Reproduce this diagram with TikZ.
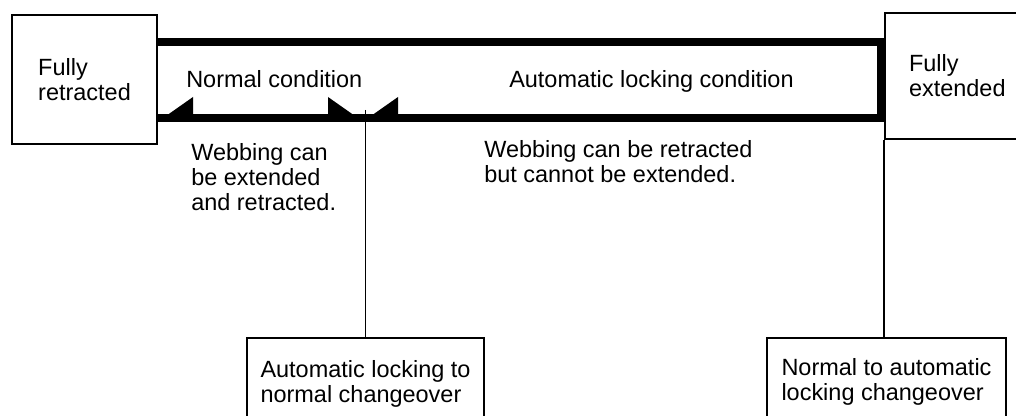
\documentclass[tikz,border=0pt]{standalone}
\usepackage{fontspec}
\setmainfont{Liberation Sans}
\tikzset{
  lbl/.style={font=\fontsize{17.6}{18.75}\selectfont,align=left},
  box/.style={lbl,draw,line width=1.5pt},
  txt/.style={lbl,inner sep=0pt},
  band/.style={line width=5.5pt},
  link/.style={line width=1.1pt}}
\newcommand\halfhead[2]{\fill (#1) ++(0,3.6) -- ++(#2*35,-24.6) -- ++(0,24.6) -- cycle;}

\begin{document}
\begin{tikzpicture}[x=0.75pt,y=-0.75pt]
\useasboundingbox (0,0) rectangle (1016,416);
\node[box,anchor=north west,minimum width=108.75pt,minimum height=96.75pt,inner xsep=19.5pt] (retr) at (11,14) {Fully\\retracted};
\node[box,anchor=north west,text width=81pt,inner xsep=18pt,minimum height=94.5pt] (ext) at (884,12) {Fully\\extended};
\node[box,anchor=north west,minimum width=177.75pt,minimum height=68.25pt] (alnc) at (246,337) {Automatic locking to\\normal changeover};
\node[box,anchor=north west,minimum width=179.25pt,minimum height=65.25pt] (nalc) at (766,337) {Normal to automatic\\locking changeover};
\coordinate (split) at (363,118);\coordinate (corner) at (881,42);
\draw[band] (retr.east |- corner) -- (corner) |- (split);
\draw[band] (retr.east |- split) -- (split);
\halfhead{retr.east |- split}{1}\halfhead{split}{-1}\halfhead{split}{1}
\coordinate (notch) at (alnc.north |- 0,110);
\draw[link] (notch) -- (alnc.north);
\draw[link] (ext.south west) -- (ext.south west |- nalc.north);
\node[txt,anchor=base west] (normal) at (186,88) {Normal condition};
\node[txt,anchor=base west] (auto) at (509,88) {Automatic locking condition};
\node[txt,anchor=north west] (webA) at (191,143) {Webbing can\\be extended\\and retracted.};
\node[txt,anchor=north west] (webB) at (484,140) {Webbing can be retracted\\but cannot be extended.};
\end{tikzpicture}
\end{document}
